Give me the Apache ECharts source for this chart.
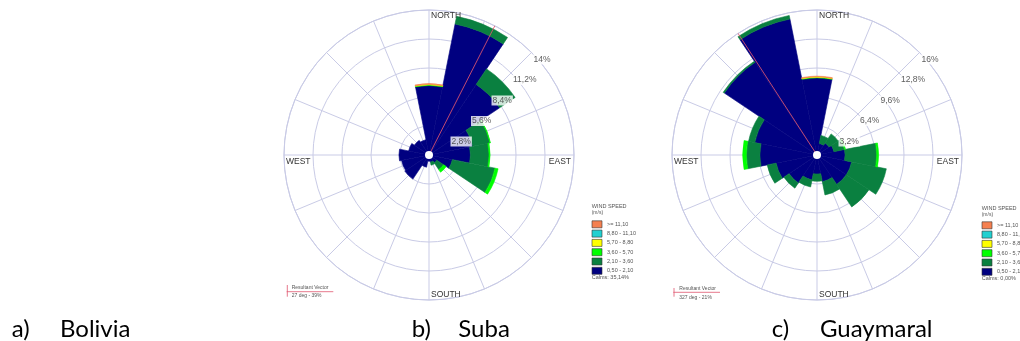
<!DOCTYPE html>
<html><head><meta charset="utf-8">
<script src="https://cdn.jsdelivr.net/npm/echarts@6/dist/echarts.min.js"></script>
<style>html,body{margin:0;padding:0;background:#fff}#c{width:1020px;height:341px}</style>
</head><body><div id="c"></div>
<script>
// ---------- DATA ----------
const directions = ['N','NNE','NE','ENE','E','ESE','SE','SSE','S','SSW','SW','WSW','W','WNW','NW','NNW'];
const speedBins = ['0,50 - 2,10','2,10 - 3,60','3,60 - 5,70','5,70 - 8,80','8,80 - 11,10','>= 11,10'];

// Suba (% frequency per direction, N clockwise)
const subaBin1 = [6.7, 12.9, 8.2, 4.3, 4.0, 2.3, 0.9, 0.7, 0.6, 1.2, 2.8, 2.7, 2.9, 2.0, 1.7, 1.5];
const subaBin2 = [0.05, 0.75, 1.8, 1.7, 1.8, 4.2, 0.8, 0.3, 0, 0, 0, 0, 0, 0, 0, 0];
const subaBin3 = [0.03, 0, 0, 0.05, 0.1, 0.3, 0.3, 0, 0, 0, 0, 0, 0, 0, 0, 0];
const subaBin4 = [0.04, 0, 0, 0, 0, 0, 0, 0, 0, 0, 0, 0, 0, 0, 0, 0];
const subaBin5 = [0, 0, 0, 0, 0, 0, 0, 0, 0, 0, 0, 0, 0, 0, 0, 0];
const subaBin6 = [0.08, 0, 0, 0, 0, 0, 0, 0, 0, 0, 0, 0, 0, 0, 0, 0];
const subaMax = 14, subaStep = 2.8;
const subaTicks = [2.8, 5.6, 8.4, 11.2, 14];
const subaTickLabels = ['2,8%', '5,6%', '8,4%', '11,2%', '14%'];
const subaVectorDeg = 27, subaVectorLen = 15.8;
const subaVectorText = '27 deg - 39%';
const subaCalms = 'Calms: 35,14%';

// Guaymaral
const guayBin1 = [8.5, 1.3, 1.6, 1.9, 3.1, 3.9, 3.9, 3.0, 2.1, 2.8, 3.7, 4.6, 6.3, 7.0, 12.3, 15.3];
const guayBin2 = [0.05, 0.9, 1.2, 1.2, 3.5, 3.9, 3.0, 1.5, 0.8, 0.8, 0.7, 1.0, 1.5, 0.7, 0.15, 0.4];
const guayBin3 = [0.03, 0, 0, 0.1, 0.2, 0, 0, 0, 0, 0, 0, 0, 0.4, 0, 0, 0];
const guayBin4 = [0.04, 0, 0, 0, 0, 0, 0, 0, 0, 0, 0, 0, 0, 0, 0, 0];
const guayBin5 = [0, 0, 0, 0, 0, 0, 0, 0, 0, 0, 0, 0, 0, 0, 0, 0];
const guayBin6 = [0.08, 0, 0, 0, 0, 0, 0, 0, 0, 0, 0, 0, 0, 0, 0, 0];
const guayMax = 16, guayStep = 3.2;
const guayTicks = [3.2, 6.4, 9.6, 12.8, 16];
const guayTickLabels = ['3,2%', '6,4%', '9,6%', '12,8%', '16%'];
const guayVectorDeg = 327, guayVectorLen = 19.5;
const guayVectorText = '327 deg - 21%';
const guayCalms = 'Calms: 0,00%';

const captions = [['a)', 'Bolivia'], ['b)', 'Suba'], ['c)', 'Guaymaral']];

// ---------- STYLE ----------
const binColors = ['#000080', '#0a8040', '#00ff00', '#ffff00', '#20d0d0', '#f58050'];
const gridColor = '#c9cbe6';
const vecColor = '#e0566e';
const FONT = '"Liberation Sans", Arial, sans-serif';

const chart = echarts.init(document.getElementById('c'), null, {renderer: 'canvas'});

const panels = [
  {cx: 429, cy: 155, max: subaMax, step: subaStep, ticks: subaTicks, labels: subaTickLabels,
   bins: [subaBin1, subaBin2, subaBin3, subaBin4, subaBin5, subaBin6],
   vDeg: subaVectorDeg, vLen: subaVectorLen, stack: 'suba'},
  {cx: 817, cy: 155, max: guayMax, step: guayStep, ticks: guayTicks, labels: guayTickLabels,
   bins: [guayBin1, guayBin2, guayBin3, guayBin4, guayBin5, guayBin6],
   vDeg: guayVectorDeg, vLen: guayVectorLen, stack: 'guay'}
];

const polar = [], angleAxis = [], radiusAxis = [], series = [];
panels.forEach((p, k) => {
  const gi = k * 2, bi = k * 2 + 1;
  polar.push({center: [p.cx, p.cy], radius: 145});
  polar.push({center: [p.cx, p.cy], radius: 145});
  angleAxis.push({polarIndex: gi, type: 'value', min: 0, max: 360, interval: 22.5, startAngle: 90, clockwise: true,
    axisLine: {show: true, lineStyle: {color: gridColor, width: 1}}, axisTick: {show: false}, axisLabel: {show: false},
    splitLine: {show: true, lineStyle: {color: gridColor, width: 1}}});
  angleAxis.push({polarIndex: bi, type: 'category', data: directions, startAngle: 101.25, clockwise: true, boundaryGap: true,
    axisLine: {show: false}, axisTick: {show: false}, axisLabel: {show: false}, splitLine: {show: false}});
  radiusAxis.push({polarIndex: gi, type: 'value', min: 0, max: p.max, interval: p.step,
    axisLine: {show: false}, axisTick: {show: false}, axisLabel: {show: false},
    splitLine: {show: true, lineStyle: {color: gridColor, width: 1}}});
  radiusAxis.push({polarIndex: bi, type: 'value', min: 0, max: p.max,
    axisLine: {show: false}, axisTick: {show: false}, axisLabel: {show: false}, splitLine: {show: false}});

  p.bins.forEach((arr, j) => {
    series.push({type: 'bar', name: speedBins[j], coordinateSystem: 'polar', polarIndex: bi, stack: p.stack,
      data: arr.map(v => (v > 0 ? v : null)), barCategoryGap: '0%',
      itemStyle: {color: binColors[j], borderColor: binColors[j], borderWidth: 0.6},
      silent: true, z: 2, animation: false});
  });
  // resultant vector
  series.push({type: 'line', coordinateSystem: 'polar', polarIndex: gi, data: [[0, p.vDeg], [p.vLen, p.vDeg]],
    symbol: 'none', clip: false, silent: true, z: 6, animation: false,
    lineStyle: {color: vecColor, width: 1, opacity: 0.85}});
  // ring labels
  series.push({type: 'scatter', coordinateSystem: 'polar', polarIndex: gi, symbolSize: 0, silent: true, z: 8, animation: false,
    data: p.ticks.map((t, i) => ({value: [t, 45], label: {formatter: p.labels[i]}})),
    label: {show: true, position: 'right', distance: 1, offset: [0, 7], fontSize: 8.5, color: '#333', fontFamily: FONT,
      backgroundColor: '#fff', padding: [1, 1, 0, 1]}});
  // calm circle
  series.push({type: 'scatter', coordinateSystem: 'polar', polarIndex: gi, data: [[0, 0]], symbolSize: 8, silent: true, z: 9,
    animation: false, itemStyle: {color: '#fff', opacity: 1}});
});

function txt(x, y, text, size, opts) {
  return Object.assign({type: 'text', x: x, y: y, silent: true, z: 20,
    style: Object.assign({text: text, fontSize: size, fontFamily: FONT, fill: '#333', textAlign: 'left', textVerticalAlign: 'middle'}, opts || {})});
}
const graphic = [];
panels.forEach(p => {
  graphic.push(txt(p.cx + 2, p.cy - 139, 'NORTH', 8.5));
  graphic.push(txt(p.cx - 143, p.cy + 7, 'WEST', 8.5));
  graphic.push(txt(p.cx + 142, p.cy + 7, 'EAST', 8.5, {textAlign: 'right'}));
  graphic.push(txt(p.cx + 2, p.cy + 140, 'SOUTH', 8.5));
});
// legend titles / calms
[[591.7, 206.7, 277.3, subaCalms], [981.7, 208.3, 278.7, guayCalms]].forEach(([x, ty, cy, calms]) => {
  graphic.push(txt(x, ty, 'WIND SPEED', 5.5, {fill: '#555'}));
  graphic.push(txt(x, ty + 6, '(m/s)', 5, {fill: '#555'}));
  graphic.push(txt(x, cy, calms, 5.5, {fill: '#555'}));
});
// resultant vector boxes
[[286.7, 333.3, 291.7, 287.3, 285, 296.7, 291.7, 287.3, 295.3, subaVectorText],
 [673.3, 720, 292.3, 674, 288, 296.7, 679.3, 288.7, 297.8, guayVectorText]].forEach(a => {
  const [x1, x2, ly, tx, ty1, ty2, textX, t1y, t2y, vt] = a;
  graphic.push({type: 'line', silent: true, z: 19, shape: {x1: x1, y1: ly, x2: x2, y2: ly}, style: {stroke: vecColor, lineWidth: 0.8}});
  graphic.push({type: 'line', silent: true, z: 19, shape: {x1: tx, y1: ty1, x2: tx, y2: ty2}, style: {stroke: vecColor, lineWidth: 0.8}});
  graphic.push(txt(textX, t1y, 'Resultant Vector', 5, {fill: '#555'}));
  graphic.push(txt(textX, t2y, vt, 5, {fill: '#555'}));
});
// captions
const capPos = [[11.7, 60], [411.7, 458.3], [771.7, 820]];
captions.forEach((c, i) => {
  const CF = 'Lato, "Open Sans", sans-serif';
  graphic.push(txt(capPos[i][0], 329, c[0], 24, {fill: '#000', fontFamily: CF}));
  graphic.push(txt(capPos[i][1], 329, c[1], 24, {fill: '#000', fontFamily: CF}));
});

const legendBase = {orient: 'vertical', itemWidth: 10, itemHeight: 7, itemGap: 1.7, padding: 0, icon: 'rect',
  selectedMode: false, data: speedBins.slice().reverse(),
  itemStyle: {borderColor: '#333', borderWidth: 0.6},
  textStyle: {fontSize: 5.5, color: '#555', lineHeight: 7, fontFamily: FONT}};

chart.setOption({
  animation: false,
  backgroundColor: '#fff',
  polar: polar,
  angleAxis: angleAxis,
  radiusAxis: radiusAxis,
  legend: [Object.assign({left: 591.7, top: 220.5}, legendBase), Object.assign({left: 981.7, top: 221.5}, legendBase)],
  series: series,
  graphic: graphic
});
</script>
</body></html>
